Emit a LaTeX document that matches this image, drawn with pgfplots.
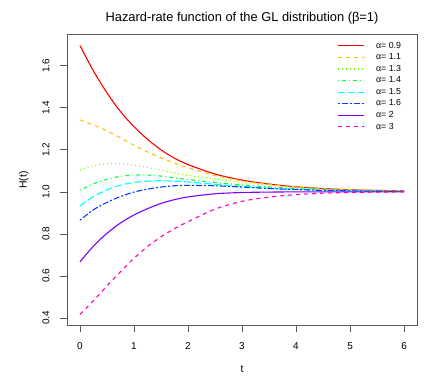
\documentclass[border=0pt]{standalone}
\usepackage{fontspec}
\setmainfont{Liberation Sans}
\usepackage{pgfplots}
\usepackage{pgfplotstable}
\pgfplotsset{compat=1.18}
% rainbow(8) as in R
\definecolor{rbred}{HTML}{FF0000}
\definecolor{rborange}{HTML}{FFBF00}
\definecolor{rblime}{HTML}{80FF00}
\definecolor{rbgreen}{HTML}{00FF40}
\definecolor{rbcyan}{HTML}{00FFFF}
\definecolor{rbblue}{HTML}{0040FF}
\definecolor{rbviolet}{HTML}{8000FF}
\definecolor{rbpink}{HTML}{FF00BF}

\pgfplotstableread{
t    a09   a11   a13   a14   a15   a16   a2    a3
0    1.696 1.342 1.104 1.008 0.933 0.865 0.667 0.417
0.25 1.575 1.318 1.124 1.038 0.978 0.915 0.742 0.483
0.5  1.471 1.290 1.134 1.060 1.010 0.950 0.803 0.553
0.75 1.382 1.257 1.134 1.074 1.032 0.978 0.852 0.620
1.0  1.310 1.222 1.127 1.080 1.045 0.999 0.890 0.684
1.25 1.250 1.190 1.116 1.080 1.051 1.013 0.920 0.740
1.5  1.200 1.162 1.103 1.075 1.053 1.023 0.945 0.786
1.75 1.160 1.137 1.090 1.067 1.051 1.029 0.963 0.825
2.0  1.130 1.115 1.078 1.059 1.047 1.031 0.976 0.858
2.5  1.085 1.078 1.062 1.045 1.036 1.029 0.991 0.918
3.0  1.056 1.052 1.045 1.033 1.026 1.023 0.997 0.955
3.5  1.037 1.035 1.031 1.023 1.018 1.016 0.999 0.975
4.0  1.024 1.023 1.021 1.016 1.012 1.011 1.000 0.987
4.5  1.016 1.015 1.014 1.011 1.008 1.007 1.000 0.994
5.0  1.010 1.010 1.009 1.007 1.005 1.005 1.000 0.997
5.5  1.007 1.007 1.006 1.005 1.003 1.003 1.000 0.999
6.0  1.005 1.005 1.004 1.003 1.002 1.002 1.000 1.000
}\hazard

\begin{document}
\begin{tikzpicture}
\path[use as bounding box] (-67bp,-52.7bp) rectangle (375bp,325.3bp);
\begin{axis}[
  at={(0,0)},anchor=south west,
  scale only axis,width=350bp,height=290.6bp,
  xmin=-0.24,xmax=6.24,ymin=0.3655,ymax=1.7475,
  xtick={0,1,2,3,4,5,6},
  ytick={0.4,0.6,0.8,1.0,1.2,1.4,1.6},
  /pgf/number format/assume math mode=true,
  yticklabel={\pgfmathprintnumber[fixed,fixed zerofill,precision=1]{\tick}},
  tick pos=left,tick align=outside,major tick length=7bp,
  xticklabel shift=7bp,yticklabel shift=7bp,
  axis line style={black!65,line width=0.7bp},
  tick style={black!65,line width=0.7bp},
  tick label style={font=\fontsize{10}{12}\selectfont},
  yticklabel style={rotate=90,anchor=south},
  title={Hazard-rate function of the GL distribution (β=1)},
  title style={font=\fontsize{12.9}{15}\selectfont,at={(axis description cs:0.5,1.038)},anchor=center},
  xlabel={t},ylabel={H(t)},
  label style={font=\fontsize{10.5}{12}\selectfont},
  xlabel style={at={(axis description cs:0.5,-0.152)},anchor=center},
  ylabel style={at={(axis description cs:-0.1230,0.5)},anchor=center},
  legend cell align=left,
  legend image code/.code={\draw[#1] (0bp,0bp) -- (26bp,0bp);},
  legend style={at={(axis description cs:0.771,0.982)},anchor=north west,
    draw=none,fill=none,inner sep=0pt,column sep=10bp,row sep=0pt,
    font=\fontsize{8.8}{10}\selectfont},
  every axis plot/.append style={line width=1.1bp},
]
\addplot[rbred,solid,smooth] table[x=t,y=a09]{\hazard};
\addlegendentry{α= 0.9}
\addplot[rborange,dash pattern=on 4bp off 4bp,smooth] table[x=t,y=a11]{\hazard};
\addlegendentry{α= 1.1}
\addplot[rblime,dash pattern=on 1bp off 3bp,smooth] table[x=t,y=a13]{\hazard};
\addlegendentry{α= 1.3}
\addplot[rbgreen,dash pattern=on 1bp off 3bp on 4bp off 3bp,smooth] table[x=t,y=a14]{\hazard};
\addlegendentry{α= 1.4}
\addplot[rbcyan,dash pattern=on 7bp off 3bp,smooth] table[x=t,y=a15]{\hazard};
\addlegendentry{α= 1.5}
\addplot[rbblue,dash pattern=on 2bp off 2bp on 6bp off 2bp,smooth] table[x=t,y=a16]{\hazard};
\addlegendentry{α= 1.6}
\addplot[rbviolet,solid,smooth] table[x=t,y=a2]{\hazard};
\addlegendentry{α= 2}
\addplot[rbpink,dash pattern=on 4bp off 4bp,smooth] table[x=t,y=a3]{\hazard};
\addlegendentry{α= 3}
\end{axis}
\end{tikzpicture}
\end{document}
